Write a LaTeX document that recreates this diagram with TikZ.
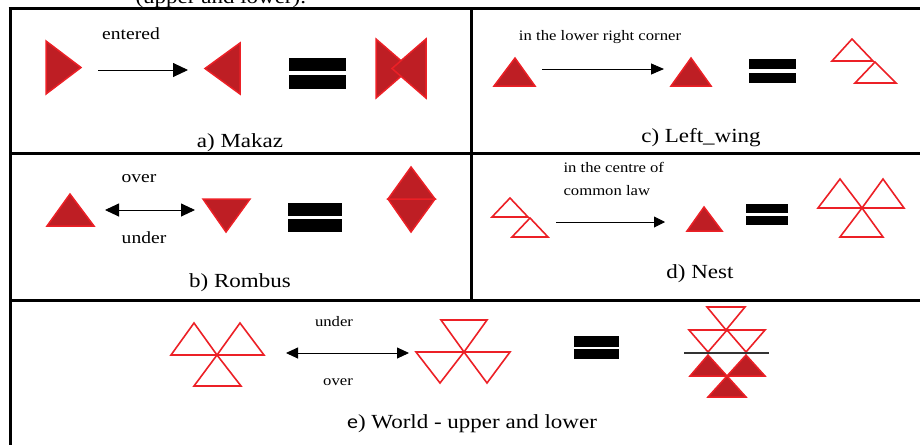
\documentclass[tikz,border=0pt]{standalone}
\usepackage{fontspec}
\setmainfont{Liberation Serif}
\newfontfamily\figfont[FakeStretch=1.15]{Liberation Serif}
\newfontfamily\figsans[FakeStretch=1.1]{Carlito}
\usetikzlibrary{arrows.meta}
\definecolor{triedge}{RGB}{236,32,38}
\definecolor{trifill}{RGB}{190,30,36}

\begin{document}
\begin{tikzpicture}[x=1pt,y=-1pt,
  frame/.style={line width=3pt},
  solidtri/.style={draw=triedge,fill=trifill,line width=1.5pt,line join=miter},
  hollowtri/.style={draw=triedge,fill=white,line width=1.6pt},
  eqbar/.style={fill=black},
  conn/.style={line width=0.9pt},
  caption/.style={font=\figfont\fontsize{20}{24}\selectfont, anchor=base},
  note/.style={font=\figfont\fontsize{17}{20}\selectfont, anchor=base},
  smallnote/.style={font=\figfont\fontsize{14.5}{23}\selectfont, anchor=base}]

  % Page: 920 x 445, y runs downwards
  \useasboundingbox (0,0) rectangle (920,445);
  \clip (0,0) rectangle (920,445);

  % Cut-off line of text above the table
  \node[caption, anchor=base west] (cuttext) at (132,3) {(upper and lower).};

  % Table rules
  \draw[frame] (8.5,8) -- (920,8);
  \draw[frame] (10,8) -- (10,445);
  \draw[frame] (471,8) -- (471,300.5);
  \draw[frame] (10,153) -- (920,153);
  \draw[frame] (10,300.5) -- (920,300.5);

  % ---- a) Makaz
  \filldraw[solidtri] (46,41) -- (81,67.5) -- (46,94) -- cycle;
  \node[note] (entered) at (131,39) {entered};
  \coordinate (a-from) at (98,70);
  \coordinate (a-to) at (188,70);
  \draw[conn, -{Triangle[length=15pt,width=14pt]}] (a-from) -- (a-to);
  \filldraw[solidtri] (240,43) -- (205,68.5) -- (240,94) -- cycle;
  \fill[eqbar] (289,58) rectangle (346,71);
  \fill[eqbar] (289,75) rectangle (346,89);
  \filldraw[solidtri] (376,39) -- (410,68.5) -- (376,98) -- cycle;
  \filldraw[solidtri] (426,39) -- (392,68.5) -- (426,98) -- cycle;
  \node[caption] (cap-a) at (240,147) {a) Makaz};

  % ---- c) Left_wing
  \node[smallnote] (corner) at (600,40) {in the lower right corner};
  \filldraw[solidtri] (494,86) -- (515,58) -- (535,86) -- cycle;
  \coordinate (c-from) at (542,69);
  \coordinate (c-to) at (664,69);
  \draw[conn, -{Triangle[length=13pt,width=11pt]}] (c-from) -- (c-to);
  \filldraw[solidtri] (671,86) -- (691,58) -- (711,86) -- cycle;
  \fill[eqbar] (749,59) rectangle (796,69);
  \fill[eqbar] (749,73) rectangle (796,83);
  \draw[hollowtri] (832,61) -- (852,39) -- (873,61) -- cycle;
  \draw[hollowtri] (855,83) -- (875,62) -- (896,83) -- cycle;
  \node[caption] (cap-c) at (701,142) {c) Left\_wing};

  % ---- b) Rombus
  \filldraw[solidtri] (47,226) -- (70,194) -- (94,226) -- cycle;
  \node[note] (over-b) at (139,182) {over};
  \node[note] (under-b) at (144,243) {under};
  \coordinate (b-from) at (105,210);
  \coordinate (b-to) at (195,210);
  \draw[conn, {Triangle[length=14pt,width=13pt]}-{Triangle[length=14pt,width=13pt]}] (b-from) -- (b-to);
  \filldraw[solidtri] (203,199) -- (250,199) -- (226,232) -- cycle;
  \fill[eqbar] (288,203) rectangle (342,216);
  \fill[eqbar] (288,219) rectangle (342,232);
  \filldraw[solidtri] (388,199) -- (435,199) -- (411,232) -- cycle;
  \filldraw[solidtri] (388,199) -- (411,167) -- (435,199) -- cycle;
  \node[caption] (cap-b) at (240,287) {b) Rombus};

  % ---- d) Nest
  \node[smallnote, anchor=base west] (centre) at (560,172) {in the centre of};
  \node[smallnote, anchor=base west] (law) at (560,195) {common law};
  \draw[hollowtri] (492,217) -- (510,198) -- (528,217) -- cycle;
  \draw[hollowtri] (512,237) -- (530,218) -- (548,237) -- cycle;
  \coordinate (d-from) at (556,222);
  \coordinate (d-to) at (665,222);
  \draw[conn, -{Triangle[length=11pt,width=11pt]}] (d-from) -- (d-to);
  \filldraw[solidtri] (687,231) -- (704,207) -- (722,231) -- cycle;
  \fill[eqbar] (746,204) rectangle (788,213);
  \fill[eqbar] (746,216) rectangle (788,225);
  \draw[hollowtri] (818,208) -- (840,179) -- (862,208) -- cycle;
  \draw[hollowtri] (862,208) -- (883,179) -- (904,208) -- cycle;
  \draw[hollowtri] (840,237) -- (862,208) -- (883,237) -- cycle;
  \node[caption] (cap-d) at (700,278) {d) Nest};

  % ---- e) World - upper and lower
  \draw[hollowtri] (171,355) -- (194,323) -- (217,355) -- cycle;
  \draw[hollowtri] (217,355) -- (240,323) -- (264,355) -- cycle;
  \draw[hollowtri] (194,386) -- (217,355) -- (241,386) -- cycle;
  \node[smallnote] (under-e) at (334,326) {under};
  \node[smallnote] (over-e) at (338,385) {over};
  \coordinate (e-from) at (286,353);
  \coordinate (e-to) at (409,353);
  \draw[conn, {Triangle[length=12pt,width=11pt]}-{Triangle[length=12pt,width=11pt]}] (e-from) -- (e-to);
  \draw[hollowtri] (441,320) -- (487,320) -- (464,352) -- cycle;
  \draw[hollowtri] (416,352) -- (464,352) -- (440,383) -- cycle;
  \draw[hollowtri] (464,352) -- (510,352) -- (487,383) -- cycle;
  \fill[eqbar] (574,336) rectangle (619,347);
  \fill[eqbar] (574,349) rectangle (619,359);
  % upper world (hollow) and lower world (solid)
  \draw[hollowtri] (707,307) -- (745,307) -- (726,330) -- cycle;
  \draw[hollowtri] (689,330) -- (727,330) -- (708,352) -- cycle;
  \draw[hollowtri] (727,330) -- (765,330) -- (746,352) -- cycle;
  \coordinate (line-l) at (684,353);
  \coordinate (line-r) at (769,353);
  \draw[black!80, line width=1.3pt] (line-l) -- (line-r);
  \filldraw[solidtri] (690,376) -- (708,355) -- (727,376) -- cycle;
  \filldraw[solidtri] (727,376) -- (746,355) -- (765,376) -- cycle;
  \filldraw[solidtri] (708,397) -- (727,376) -- (746,397) -- cycle;
  \node[caption] (cap-e) at (472,428) {{\figsans e}) World - upper and lower};
\end{tikzpicture}
\end{document}
